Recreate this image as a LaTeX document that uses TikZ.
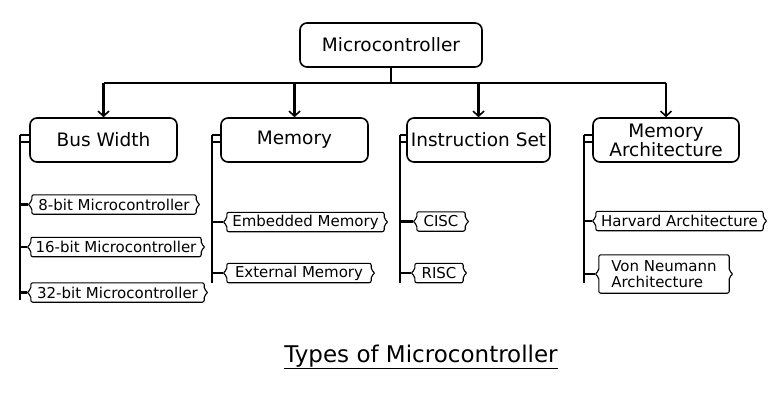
\documentclass[tikz,border=0pt]{standalone}
\usepackage{fontspec}
\setmainfont{DejaVu Sans}
\usetikzlibrary{calc,arrows.meta}
\begin{document}
\begin{tikzpicture}[x=1pt,y=-1pt,
 box/.style={draw,line width=1.6pt,rounded corners=7pt,minimum height=44pt,align=center,font=\fontsize{18.5}{19}\selectfont,inner sep=2pt},
 leaf/.style={inner sep=0pt,minimum height=19pt,align=left,font=\fontsize{15}{16}\selectfont},
 bus/.style={line width=2.2pt},
 arr/.style={line width=2.2pt,-{Straight Barb[length=5pt,width=11pt,line width=1.6pt]}}]
\useasboundingbox (0,0) rectangle (768,402);
\node[box,minimum width=182pt] (mc) at (391,45) {Microcontroller};
\node[box,minimum width=147pt] (bw) at (103.5,140) {Bus Width};
\node[box,minimum width=147pt] (mem) at (294.5,140) {Memory};
\node[box,minimum width=143pt] (is) at (478.5,140) {Instruction Set};
\node[box,minimum width=146pt] (ma) at (666,140) {Memory\\Architecture};
\coordinate (busy) at (0,83);
\draw[bus] (mc.south) -- (mc.south |- busy);
\draw[bus] (bw.north |- busy) -- (ma.north |- busy);
\foreach \n in {bw,mem,is,ma} \draw[arr] (\n.north |- busy) -- (\n.north);
% leaves
\node[leaf,minimum width=172pt] (l1) at (114,204.5) {8-bit Microcontroller};
\node[leaf,minimum width=178pt] (l2) at (116,247) {16-bit Microcontroller};
\node[leaf,minimum width=181pt] (l3) at (117.5,292.5) {32-bit Microcontroller};
\node[leaf,minimum width=165pt] (l4) at (305.5,222) {Embedded Memory};
\node[leaf,minimum width=152pt] (l5) at (299,273) {External Memory};
\node[leaf,minimum width=56pt] (l6) at (441,221.5) {CISC};
\node[leaf,minimum width=56pt] (l7) at (439,273) {RISC};
\node[leaf,minimum width=175pt] (l8) at (679.5,221) {Harvard Architecture};
\node[leaf,minimum width=138pt,minimum height=38pt,align=left] (l9) at (664,274) {Von Neumann\\Architecture};
\foreach \n in {l1,l2,l3,l4,l5,l6,l7,l8,l9}{
 \draw[line width=1.1pt,rounded corners=2pt]
  ($(\n.north west)+(4,0)$) -- ($(\n.west)+(4,-3)$) -- (\n.west) -- ($(\n.west)+(4,3)$) -- ($(\n.south west)+(4,0)$)
  -- ($(\n.south east)+(-4,0)$) -- ($(\n.east)+(-4,3)$) -- (\n.east) -- ($(\n.east)+(-4,-3)$) -- ($(\n.north east)+(-4,0)$) -- cycle;}
% side rails
\coordinate (r1) at (20,300); \coordinate (r2) at (212,283); \coordinate (r3) at (400,283); \coordinate (r4) at (584,283);
\foreach \b/\r/\ls in {bw/r1/{l1,l2,l3},mem/r2/{l4,l5},is/r3/{l6,l7},ma/r4/{l8,l9}}{
 \draw[bus] (\r) -- (\r |- {$(\b.west)+(0,-5)$});
 \draw[line width=1.6pt] (\r |- {$(\b.west)+(0,-5)$}) -- ($(\b.west)+(0,-5)$);
 \draw[line width=1.6pt] (\r |- {$(\b.west)+(0,2)$}) -- ($(\b.west)+(0,2)$);
 \foreach \l in \ls \draw[bus] (\r |- \l.west) -- (\l.west);}
\node[font=\fontsize{23}{25}\selectfont] (t) at (421,357) {\underline{Types of Microcontroller}};
\end{tikzpicture}
\end{document}
